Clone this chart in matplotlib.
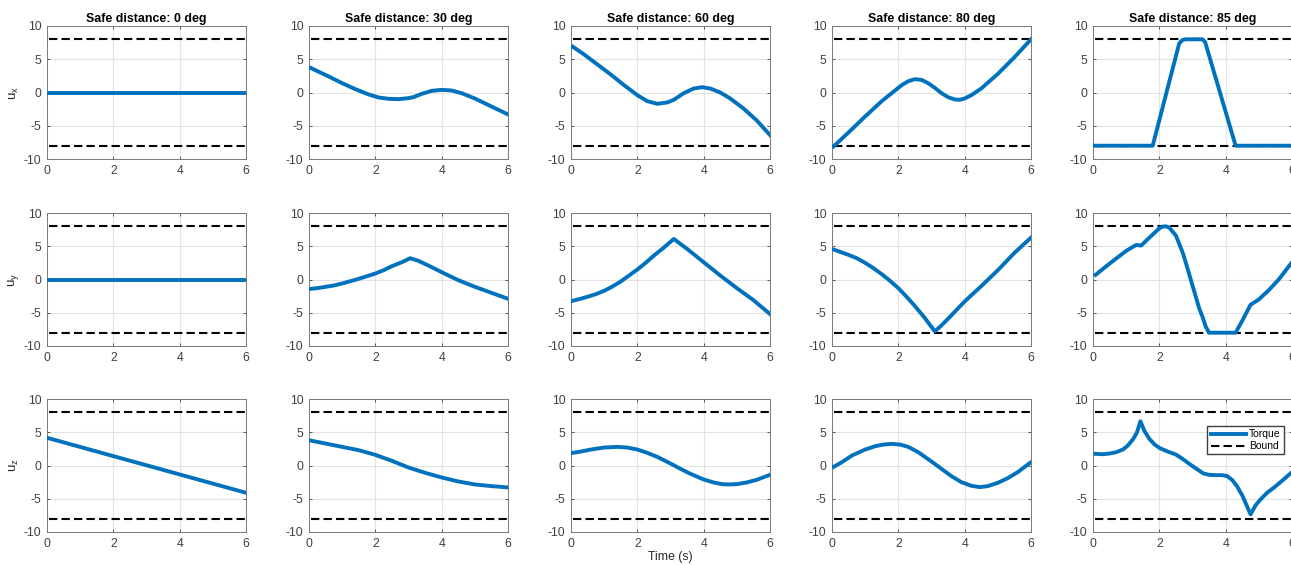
import matplotlib
matplotlib.use("Agg")
import matplotlib.pyplot as plt

plt.rcParams["font.family"] = ["Liberation Sans", "DejaVu Sans"]
plt.rcParams["mathtext.default"] = "regular"
plt.rcParams["axes.unicode_minus"] = False

angles = [0, 30, 60, 80, 85]
components = ["x", "y", "z"]
bound = 8.0
t_span = [0.05, 6.0]

# u_x for each safe distance: (time, torque)
ux_t = [
    [0.05, 6.0],
    [0.05, 0.3, 0.6, 1.0, 1.4, 1.8, 2.1, 2.4, 2.7, 3.0, 3.15, 3.4, 3.7, 4.0, 4.3,
     4.6, 5.0, 5.5, 6.0],
    [0.05, 0.4, 0.8, 1.2, 1.6, 2.0, 2.3, 2.6, 2.9, 3.1, 3.4, 3.7, 3.95, 4.2, 4.5,
     4.8, 5.2, 5.6, 6.0],
    [0.05, 0.5, 1.0, 1.5, 1.8, 2.1, 2.3, 2.5, 2.7, 2.9, 3.1, 3.3, 3.5, 3.7, 3.85,
     4.0, 4.2, 4.5, 5.0, 5.5, 6.0],
    [0.05, 1.8, 2.6, 2.7, 2.8, 3.3, 3.38, 4.3, 6.0],
]
ux_v = [
    [0.0, 0.0],
    [3.7, 3.1, 2.4, 1.4, 0.5, -0.3, -0.75, -0.95, -1.0, -0.85, -0.7, -0.2, 0.25,
     0.4, 0.3, -0.1, -0.9, -2.1, -3.3],
    [6.9, 5.7, 4.2, 2.7, 1.1, -0.4, -1.3, -1.7, -1.5, -1.1, -0.1, 0.6, 0.8, 0.6,
     0.0, -0.9, -2.4, -4.2, -6.4],
    [-8.1, -6.0, -3.6, -1.3, -0.1, 1.1, 1.7, 2.0, 1.9, 1.4, 0.7, -0.1, -0.7,
     -1.05, -1.1, -0.9, -0.4, 0.6, 2.8, 5.3, 8.0],
    [-8.0, -8.0, 7.4, 7.9, 8.0, 8.0, 7.6, -8.0, -8.0],
]

uy_t = [
    [0.05, 6.0],
    [0.05, 0.25, 0.5, 0.75, 1.0, 1.25, 1.5, 1.75, 2.0, 2.25, 2.5, 2.8, 3.05, 3.3,
     3.6, 4.0, 4.5, 5.0, 5.5, 6.0],
    [0.05, 0.25, 0.5, 0.75, 1.0, 1.25, 1.5, 1.75, 2.0, 2.25, 2.5, 2.8, 3.1, 3.5,
     4.0, 4.5, 5.0, 5.5, 6.0],
    [0.05, 0.5, 0.75, 1.0, 1.25, 1.5, 1.75, 2.0, 2.25, 2.5, 2.8, 3.1, 3.3, 3.5,
     3.75, 4.0, 4.5, 5.0, 5.5, 6.0],
    [0.08, 0.5, 1.0, 1.3, 1.45, 1.7, 2.0, 2.1, 2.2, 2.3, 2.5, 2.7, 2.8, 3.0, 3.2,
     3.3, 3.4, 3.5, 4.3, 4.5, 4.75, 5.0, 5.3, 5.6, 6.0],
]
uy_v = [
    [0.0, 0.0],
    [-1.4, -1.3, -1.1, -0.9, -0.6, -0.25, 0.1, 0.5, 0.9, 1.4, 2.0, 2.6, 3.2, 2.8,
     2.1, 1.1, -0.1, -1.1, -2.0, -2.9],
    [-3.2, -2.95, -2.6, -2.2, -1.7, -1.05, -0.3, 0.6, 1.5, 2.5, 3.6, 4.8, 6.1,
     4.6, 2.6, 0.6, -1.3, -3.1, -5.2],
    [4.5, 3.7, 3.2, 2.5, 1.7, 0.8, -0.2, -1.3, -2.6, -4.0, -5.8, -7.8, -6.9,
     -5.9, -4.6, -3.3, -1.0, 1.4, 4.0, 6.3],
    [0.7, 2.4, 4.3, 5.2, 5.1, 6.3, 7.7, 7.95, 8.0, 7.8, 6.6, 4.1, 2.5, -0.9,
     -4.3, -5.6, -7.1, -8.0, -8.0, -6.2, -3.8, -3.0, -1.6, 0.0, 2.6],
]

uz_t = [
    [0.05, 6.0],
    [0.05, 0.5, 1.0, 1.5, 2.0, 2.5, 3.0, 3.5, 4.0, 4.5, 5.0, 5.5, 6.0],
    [0.05, 0.3, 0.6, 1.0, 1.4, 1.7, 2.0, 2.3, 2.6, 3.0, 3.3, 3.6, 4.0, 4.3, 4.55,
     4.75, 5.0, 5.3, 5.6, 6.0],
    [0.05, 0.3, 0.6, 1.0, 1.3, 1.55, 1.8, 2.05, 2.3, 2.6, 3.0, 3.3, 3.6, 3.9, 4.2,
     4.45, 4.7, 5.0, 5.3, 5.6, 6.0],
    [0.08, 0.3, 0.5, 0.7, 0.9, 1.05, 1.2, 1.32, 1.43, 1.55, 1.7, 1.85, 2.0, 2.25,
     2.5, 2.7, 2.93, 3.15, 3.33, 3.5, 3.7, 3.9, 4.05, 4.2, 4.34, 4.5, 4.65, 4.75,
     4.9, 5.05, 5.25, 5.45, 5.7, 6.0],
]
uz_v = [
    [4.1, -4.1],
    [3.75, 3.3, 2.8, 2.3, 1.6, 0.7, -0.3, -1.1, -1.8, -2.4, -2.85, -3.1, -3.3],
    [1.9, 2.1, 2.4, 2.7, 2.8, 2.7, 2.4, 1.9, 1.3, 0.3, -0.5, -1.25, -2.1, -2.55,
     -2.8, -2.85, -2.8, -2.55, -2.15, -1.4],
    [-0.2, 0.5, 1.5, 2.4, 2.9, 3.15, 3.25, 3.15, 2.8, 2.0, 0.6, -0.5, -1.6, -2.5,
     -3.05, -3.25, -3.1, -2.6, -1.9, -1.0, 0.5],
    [1.75, 1.7, 1.8, 2.0, 2.4, 3.0, 3.9, 4.9, 6.65, 5.2, 4.0, 3.2, 2.65, 2.1,
     1.65, 1.0, 0.15, -0.6, -1.2, -1.4, -1.45, -1.45, -1.6, -2.2, -3.1, -4.5,
     -6.2, -7.35, -6.0, -5.1, -4.1, -3.35, -2.3, -1.0],
]

series_t = [ux_t, uy_t, uz_t]
series_v = [ux_v, uy_v, uz_v]

W, H = 1291, 565
col_left = [47, 309, 571, 832, 1093]
row_top = [26, 213, 399]
ax_w, ax_h = 199, 133

blue = "#0072BD"
text_gray = "#262626"

fig = plt.figure(figsize=(W / 100, H / 100), dpi=100)

for r in range(3):
    for c in range(5):
        ax = fig.add_axes([col_left[c] / W, 1 - (row_top[r] + ax_h) / H, ax_w / W, ax_h / H])
        ax.plot(series_t[r][c], series_v[r][c], color=blue, lw=2.8,
                solid_joinstyle="round", label="Torque", zorder=3)
        ax.plot(t_span, [bound, bound], color="black", lw=1.5, dashes=(4, 2),
                label="Bound", zorder=2)
        ax.plot(t_span, [-bound, -bound], color="black", lw=1.5, dashes=(4, 2), zorder=2)
        ax.set_xlim(0, 6)
        ax.set_ylim(-10, 10)
        ax.set_xticks([0, 2, 4, 6])
        ax.set_yticks([-10, -5, 0, 5, 10])
        ax.grid(True, color="#e3e3e3", lw=0.8)
        ax.set_axisbelow(True)
        ax.tick_params(direction="in", length=2.5, width=0.6, labelsize=8.8,
                       colors="#404040", top=True, right=True, pad=4)
        for s in ax.spines.values():
            s.set_color("#7a7a7a")
            s.set_linewidth(0.7)
        if r == 0:
            ax.set_title(f"Safe distance: {angles[c]} deg", fontsize=8.9,
                         fontweight="bold", pad=3)
        if c == 0:
            ax.set_ylabel(f"u$_{components[r]}$", fontsize=9.5, color=text_gray, labelpad=2)
        if r == 2 and c == 2:
            ax.set_xlabel("Time (s)", fontsize=8.8, color=text_gray, labelpad=1)
        if r == 2 and c == 4:
            ax.legend(loc="upper right", bbox_to_anchor=(0.985, 0.835), fontsize=7.5,
                      handlelength=3.4, handletextpad=0.3, borderpad=0.3,
                      labelspacing=0.2, fancybox=False, edgecolor="#404040",
                      framealpha=1)

fig.savefig("out.png", dpi=100)
